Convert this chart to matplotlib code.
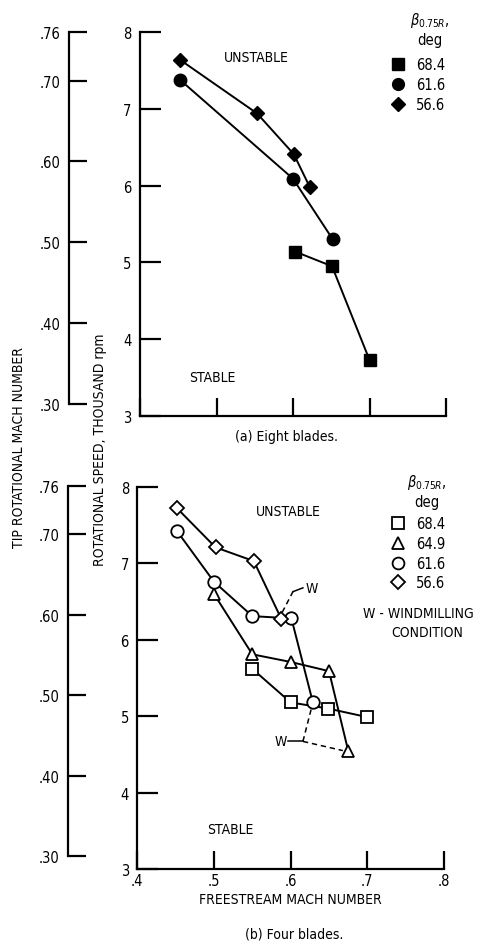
import matplotlib
matplotlib.use("Agg")
import matplotlib.pyplot as plt
from matplotlib.lines import Line2D

plt.rcParams['font.family'] = 'DejaVu Sans'
plt.rcParams['font.stretch'] = 'condensed'
plt.rcParams['mathtext.fontset'] = 'dejavusans'

# --- (a) eight blades: stability boundary, rpm (thousand) vs freestream Mach ---
a_beta_684_mach = [0.603, 0.651, 0.700]
a_beta_684_rpm = [5.14, 4.95, 3.73]
a_beta_616_mach = [0.452, 0.600, 0.652]
a_beta_616_rpm = [7.38, 6.09, 5.30]
a_beta_566_mach = [0.452, 0.553, 0.601, 0.622]
a_beta_566_rpm = [7.64, 6.94, 6.41, 5.98]

# --- (b) four blades ---
b_beta_684_mach = [0.550, 0.600, 0.649, 0.699]
b_beta_684_rpm = [5.62, 5.18, 5.10, 4.99]
b_beta_649_mach = [0.500, 0.550, 0.600, 0.650, 0.675]
b_beta_649_rpm = [6.60, 5.81, 5.71, 5.59, 4.55]
b_beta_616_mach = [0.452, 0.500, 0.550, 0.601, 0.629]
b_beta_616_rpm = [7.42, 6.76, 6.31, 6.28, 5.18]
b_beta_566_mach = [0.452, 0.502, 0.552, 0.588]
b_beta_566_rpm = [7.72, 7.21, 7.03, 6.27]

mach_ticks = [0.30, 0.40, 0.50, 0.60, 0.70, 0.76]
mach_labels = ['.30', '.40', '.50', '.60', '.70', '.76']
x_ticks = [0.4, 0.5, 0.6, 0.7, 0.8]
x_labels = ['.4', '.5', '.6', '.7', '.8']
rpm_ticks = [3, 4, 5, 6, 7, 8]

W, H = 483, 945
fig = plt.figure(figsize=(W / 100, H / 100), dpi=100)


def px_axes(x0, y_top, x1, y_bot):
    return fig.add_axes([x0 / W, 1 - y_bot / H, (x1 - x0) / W, (y_bot - y_top) / H])


def fig_text(x, y, s, **kw):
    kw.setdefault('fontsize', 10)
    kw.setdefault('va', 'center')
    return fig.text(x / W, 1 - y / H, s, **kw)


def style_main(ax, show_xlabels):
    for s in ['top', 'right']:
        ax.spines[s].set_visible(False)
    for s in ['left', 'bottom']:
        ax.spines[s].set_linewidth(1.6)
    ax.set_xlim(0.4, 0.8)
    ax.set_ylim(3, 8)
    ax.set_xticks(x_ticks)
    ax.set_yticks(rpm_ticks)
    ax.set_yticklabels([str(t) for t in rpm_ticks], fontsize=10.5)
    ax.tick_params(axis='y', direction='in', length=15, width=1.6, pad=6)
    ax.tick_params(axis='x', direction='in', length=13, width=1.6, pad=3)
    if show_xlabels:
        ax.set_xticklabels(x_labels, fontsize=10.5)
    else:
        ax.set_xticklabels([])


def style_mach(ax):
    for s in ['top', 'right', 'bottom']:
        ax.spines[s].set_visible(False)
    ax.spines['left'].set_linewidth(1.6)
    ax.patch.set_visible(False)
    ax.set_ylim(0.30, 0.76)
    ax.set_yticks(mach_ticks)
    ax.set_yticklabels(mach_labels, fontsize=10.5)
    ax.set_xticks([])
    ax.tick_params(axis='y', direction='in', length=13, width=1.6, pad=6)


def beta_legend(ax, handles, labels, x_left, y_top, x_title, y_title):
    fig_text(x_title, y_title, '$\\beta_{0.75R}$,', fontsize=10.5, ha='center')
    fig_text(x_title, y_title + 20, 'deg', fontsize=10.5, ha='center')
    ax.legend(handles, labels, loc='upper left', bbox_to_anchor=(x_left / W, 1 - y_top / H),
              bbox_transform=fig.transFigure, frameon=False,
              fontsize=10.5, handlelength=1.0, handletextpad=0.7,
              labelspacing=0.33, borderpad=0, borderaxespad=0)


line_kw = dict(color='black', linewidth=1.4)

# ---------------- (a) Eight blades ----------------
ax_a = px_axes(140, 33, 446, 417)
style_main(ax_a, False)
ax_a.plot(a_beta_684_mach, a_beta_684_rpm, marker='s', markersize=8.5, **line_kw)
ax_a.plot(a_beta_616_mach, a_beta_616_rpm, marker='o', markersize=9, **line_kw)
ax_a.plot(a_beta_566_mach, a_beta_566_rpm, marker='D', markersize=7, **line_kw)
ax_a.text(0.552, 7.67, 'UNSTABLE', fontsize=10, ha='center', va='center')
ax_a.text(0.494, 3.51, 'STABLE', fontsize=10, ha='center', va='center')
ax_a.text(0.48, -0.052, '(a) Eight blades.', fontsize=10, ha='center', va='center',
          transform=ax_a.transAxes)
a_handles = [Line2D([], [], color='black', linestyle='none', marker=m, markersize=s)
             for m, s in [('s', 8), ('o', 8.5), ('D', 7)]]
beta_legend(ax_a, a_handles, ['68.4', '61.6', '56.6'], 391, 58, 430, 21)

ax_am = px_axes(69, 33, 90, 405)
style_mach(ax_am)

# ---------------- (b) Four blades ----------------
open_kw = dict(markerfacecolor='white', markeredgecolor='black', markeredgewidth=1.3)
ax_b = px_axes(137.3, 488, 444, 870)
style_main(ax_b, True)
ax_b.plot(b_beta_684_mach, b_beta_684_rpm, marker='s', markersize=8.5, **open_kw, **line_kw)
ax_b.plot(b_beta_649_mach, b_beta_649_rpm, marker='^', markersize=9, **open_kw, **line_kw)
ax_b.plot(b_beta_616_mach, b_beta_616_rpm, marker='o', markersize=9, **open_kw, **line_kw)
ax_b.plot(b_beta_566_mach, b_beta_566_rpm, marker='D', markersize=7, **open_kw, **line_kw)

# windmilling leaders
dash = (0, (3.5, 2.5))
ax_b.plot([0.589, 0.603], [6.36, 6.63], color='black', linewidth=1.1, linestyle=dash)
ax_b.plot([0.603, 0.616], [6.63, 6.68], color='black', linewidth=1.1)
ax_b.text(0.619, 6.68, 'W', fontsize=10, ha='left', va='center')
ax_b.plot([0.616, 0.627], [4.67, 5.10], color='black', linewidth=1.1, linestyle=dash)
ax_b.plot([0.616, 0.668], [4.67, 4.55], color='black', linewidth=1.1, linestyle=dash)
ax_b.plot([0.596, 0.616], [4.67, 4.67], color='black', linewidth=1.1)
ax_b.text(0.595, 4.67, 'W', fontsize=10, ha='right', va='center')

ax_b.text(0.5975, 7.69, 'UNSTABLE', fontsize=10, ha='center', va='center')
ax_b.text(0.521, 3.52, 'STABLE', fontsize=10, ha='center', va='center')
ax_b.set_xlabel('FREESTREAM MACH NUMBER', fontsize=10, labelpad=3)
ax_b.text(0.51, -0.17, '(b) Four blades.', fontsize=10, ha='center', va='center',
          transform=ax_b.transAxes)
b_handles = [Line2D([], [], color='black', linestyle='none', marker=m, markersize=s, **open_kw)
             for m, s in [('s', 8), ('^', 8.5), ('o', 8.5), ('D', 7)]]
beta_legend(ax_b, b_handles, ['68.4', '64.9', '61.6', '56.6'], 391, 517, 427, 483)
fig_text(363, 614, 'W - WINDMILLING', ha='left')
fig_text(391, 633, 'CONDITION', ha='left')

ax_bm = px_axes(68, 487, 89, 857)
style_mach(ax_bm)

# shared axis titles
fig_text(19, 448, 'TIP ROTATIONAL MACH NUMBER', rotation=90, ha='center')
fig_text(100, 450, 'ROTATIONAL SPEED, THOUSAND rpm', rotation=90, ha='center')

fig.savefig('out.png', dpi=100)
